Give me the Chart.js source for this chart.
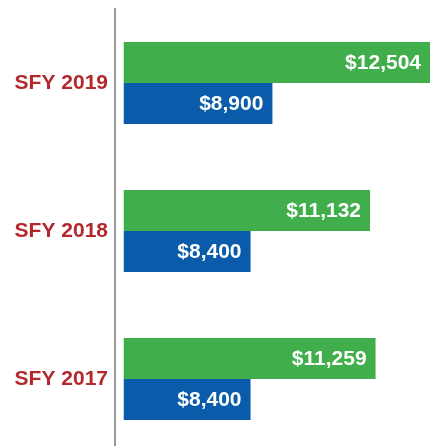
<!DOCTYPE html>
<html>
<head>
<meta charset="utf-8">
<script src="https://cdn.jsdelivr.net/npm/chart.js@4/dist/chart.umd.min.js"></script>
<style>
  html, body { margin: 0; padding: 0; background: #fff; overflow: hidden; }
  #wrap { width: 430px; height: 453px; }
</style>
</head>
<body>
<div id="wrap"><canvas id="chartSfy"></canvas></div>
<script>
// datos
const categorias = ['SFY 2019', 'SFY 2018', 'SFY 2017'];
const serieVerde = [12504, 11132, 11259];
const serieAzul = [8900, 8400, 8400];

function formatoMoneda(valor) {
    return '$' + valor.toLocaleString('en-US');
}

// etiquetas blancas dentro de cada barra
const etiquetasBarras = {
    id: 'etiquetasBarras',
    afterDatasetsDraw(chart) {
        const ctx = chart.ctx;
        ctx.save();
        ctx.font = 'bold 21px "Liberation Sans", Arial, sans-serif';
        ctx.fillStyle = '#ffffff';
        ctx.textAlign = 'right';
        ctx.textBaseline = 'middle';
        chart.data.datasets.forEach((ds, i) => {
            chart.getDatasetMeta(i).data.forEach((bar, j) => {
                ctx.fillText(formatoMoneda(ds.data[j]), bar.x - 9, bar.y + 1);
            });
        });
        ctx.restore();
    }
};

new Chart(
    document.getElementById('chartSfy'),
    {
        type: 'bar',
        data: {
            labels: categorias,
            datasets: [
                {
                    label: 'Serie verde',
                    data: serieVerde,
                    backgroundColor: '#40ae4a',
                    base: 5500
                },
                {
                    label: 'Serie azul',
                    data: serieAzul,
                    backgroundColor: '#0a5caa',
                    base: 5500
                }
            ]
        },
        options: {
            indexAxis: 'y',
            responsive: true,
            maintainAspectRatio: false,
            animation: false,
            layout: { padding: { top: 9, right: 0, bottom: 0, left: 0 } },
            datasets: {
                bar: { categoryPercentage: 0.555, barPercentage: 1 }
            },
            plugins: {
                legend: { display: false },
                tooltip: { enabled: false }
            },
            scales: {
                x: {
                    display: false,
                    min: 5300,
                    max: 12504
                },
                y: {
                    grid: { display: false, drawTicks: false },
                    border: { display: true, color: '#9b9b9b', width: 2 },
                    ticks: {
                        color: '#b3282d',
                        padding: 7,
                        font: { family: '"Liberation Sans", Arial, sans-serif', size: 21, weight: 'bold' }
                    },
                    afterFit(scale) {
                        scale.width = 115;
                        scale.paddingTop = 0;
                        scale.paddingBottom = 0;
                    }
                }
            }
        },
        plugins: [etiquetasBarras]
    }
);
</script>
</body>
</html>
